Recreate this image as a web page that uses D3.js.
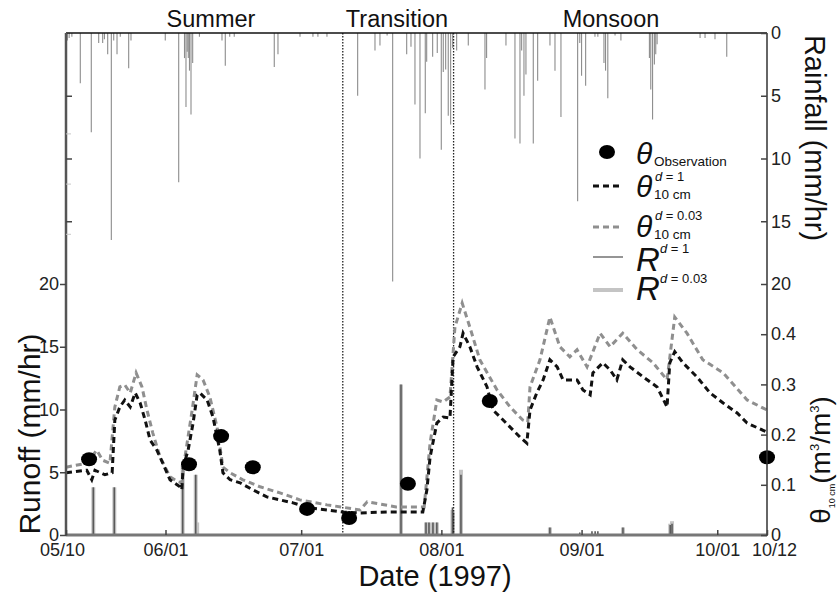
<!DOCTYPE html>
<html><head><meta charset="utf-8">
<script src="https://cdn.jsdelivr.net/npm/d3@7/dist/d3.min.js"></script>
<style>
body{margin:0;background:#fff}
text{font-family:"Liberation Sans",Arial,Helvetica,sans-serif}
</style></head>
<body><svg id="chart" width="838" height="592"></svg>
<script>
// ---- DATA (day = days since 1997-05-10) ----
const seasonNames = ["Summer", "Transition", "Monsoon"];
const seasonBreakDays = [61.2, 85.7];
const dateTickLabels = ["05/10", "06/01", "07/01", "08/01", "09/01", "10/01", "10/12"];
const runoffTicks = [0, 5, 10, 15, 20];
const rainfallTicks = [0, 5, 10, 15, 20];
const thetaTicks = [0, 0.1, 0.2, 0.3, 0.4];

// hourly rainfall (mm/hr) : [day, value]
const rainfall = [[0.1,1.1],[0.3,0.6],[0.7,0.4],[1.3,0.3],[3.16,4.0],[5.59,7.9],[7.23,0.8],[8.11,0.8],[8.5,0.5],[9.22,1.7],[10.02,16.5],[10.55,0.6],[11.28,1.7],[12.0,0.3],[13.86,2.8],[14.37,0.6],[21.95,0.6],[24.92,11.9],[26.2,2.0],[26.53,5.9],[26.8,1.5],[27.04,2.0],[27.3,3.0],[27.64,6.5],[28.01,2.4],[29.5,0.3],[34.49,0.6],[35.22,2.6],[36.2,0.3],[37.2,0.3],[46.05,2.7],[46.87,1.7],[51.74,0.3],[54.6,0.3],[55.7,0.3],[57.7,0.3],[64.49,5.0],[68.32,1.4],[69.42,1.0],[71.0,0.2],[72.23,19.8],[75.33,1.7],[76.28,1.1],[77.16,5.7],[78.27,10.0],[79.44,6.4],[79.75,2.3],[81.07,1.9],[82.09,1.6],[82.98,9.3],[83.42,3.1],[83.95,2.9],[84.52,6.6],[85.05,7.3],[85.5,1.2],[86.38,1.4],[88.95,1.0],[92.64,4.5],[93.0,2.0],[97.28,1.0],[99.27,8.4],[100.38,8.8],[100.75,1.4],[101.26,5.0],[101.7,3.3],[103.32,8.8],[104.29,3.8],[107.01,1.0],[108.12,3.0],[109.44,6.7],[113.13,13.4],[113.6,0.8],[114.0,3.4],[114.9,4.2],[116.96,0.3],[117.6,0.3],[118.95,2.4],[119.3,3.0],[119.8,5.2],[121.4,0.2],[122.7,0.6],[129.0,2.0],[129.3,4.5],[129.7,6.9],[130.1,2.5],[130.4,1.7],[130.7,0.9],[140.2,0.4],[141.3,0.4],[143.5,0.5],[146.1,1.9]];

// simulated runoff (mm/hr) : [day, value]
const runoffD1 = [[6.04,3.8],[10.68,3.8],[25.8,5.6],[28.68,4.8],[74.07,12.0],[79.6,1.0],[80.26,1.0],[81.14,1.0],[82.0,1.0],[85.45,2.2],[85.67,1.8],[87.33,4.8],[107.0,0.6],[113.6,0.2],[116.3,0.3],[117.0,0.3],[117.6,0.3],[123.15,0.6],[133.6,0.8],[134.0,0.9]];
const runoffD003 = [[6.04,3.8],[10.68,3.8],[25.8,5.6],[28.68,4.8],[29.0,1.0],[74.07,12.0],[79.6,1.0],[80.26,1.0],[81.14,1.0],[82.0,1.0],[85.45,2.0],[87.33,5.2],[107.0,0.6],[123.15,0.6],[133.6,0.9],[134.0,1.1]];

// simulated soil moisture at 10 cm (m3/m3) : [day, value]
const thetaD1 = [[0,0.124],[4.6,0.129],[5.7,0.110],[6.4,0.129],[8.6,0.120],[10.2,0.124],[10.8,0.229],[11.9,0.255],[13.0,0.269],[14.2,0.255],[15.3,0.283],[16.4,0.263],[17.5,0.229],[18.6,0.189],[20.1,0.169],[21.4,0.143],[23.0,0.110],[25.2,0.096],[25.6,0.090],[25.9,0.135],[27.0,0.169],[28.1,0.223],[29.0,0.279],[29.6,0.283],[31.2,0.269],[32.5,0.235],[34.0,0.169],[34.7,0.124],[36.3,0.110],[38.5,0.104],[41.3,0.090],[44.4,0.076],[47.3,0.070],[50.2,0.064],[53.9,0.054],[57.7,0.050],[61.2,0.046],[65.0,0.044],[71.6,0.046],[78.9,0.046],[79.8,0.090],[80.5,0.155],[82.0,0.223],[83.4,0.235],[84.9,0.233],[85.6,0.355],[87.1,0.375],[87.8,0.402],[89.3,0.375],[90.9,0.335],[93.1,0.295],[94.4,0.249],[96.0,0.235],[98.2,0.215],[100.4,0.195],[101.9,0.183],[102.6,0.249],[104.1,0.283],[105.5,0.309],[107.0,0.349],[108.6,0.335],[109.9,0.309],[111.4,0.309],[113.0,0.309],[114.3,0.289],[115.9,0.279],[116.5,0.323],[118.7,0.343],[120.3,0.329],[121.8,0.309],[123.1,0.349],[124.7,0.335],[127.6,0.315],[130.7,0.295],[132.9,0.255],[133.5,0.343],[134.6,0.365],[136.4,0.343],[139.5,0.315],[142.4,0.283],[145.3,0.263],[148.4,0.243],[150.6,0.223],[155,0.205]];
const thetaD003 = [[0,0.135],[4.6,0.143],[6.8,0.169],[8.1,0.149],[9.7,0.143],[10.8,0.255],[11.9,0.295],[13.0,0.299],[14.2,0.283],[15.5,0.323],[16.8,0.295],[17.9,0.249],[19.2,0.203],[20.8,0.155],[23.0,0.116],[24.8,0.106],[25.6,0.104],[26.3,0.155],[27.9,0.249],[29.0,0.319],[30.3,0.309],[31.8,0.275],[33.4,0.215],[34.7,0.135],[36.3,0.124],[39.1,0.110],[42.9,0.096],[47.3,0.084],[51.7,0.070],[57.7,0.060],[65.0,0.050],[66.6,0.066],[73.0,0.056],[79.2,0.056],[80.5,0.183],[82.0,0.269],[83.4,0.265],[84.9,0.275],[86.0,0.414],[87.6,0.462],[89.3,0.414],[91.5,0.349],[95.3,0.289],[98.2,0.255],[101.0,0.229],[102.1,0.225],[102.6,0.295],[104.8,0.349],[107.0,0.434],[109.2,0.375],[111.4,0.355],[113.0,0.369],[115.2,0.335],[118.1,0.402],[120.3,0.375],[123.1,0.402],[126.3,0.369],[129.8,0.343],[132.9,0.309],[134.6,0.434],[137.3,0.402],[140.8,0.349],[145.3,0.323],[150.6,0.269],[155,0.249]];

// observed soil moisture (m3/m3) : [day, value]
const thetaObs = [[5.1,0.151],[27.2,0.141],[34.3,0.197],[41.3,0.135],[53.3,0.052],[62.6,0.034],[75.6,0.102],[93.7,0.267],[155,0.155]];

// ---- CHART ----
const svg = d3.select("#chart");
const L = 66, R = 767, T = 33, B = 535;
const t0 = new Date(1997, 4, 10);
const dayToDate = d => new Date(t0.getTime() + d * 86400000);
const x = d3.scaleTime().domain([t0, new Date(1997, 9, 12)]).range([L, R]);
const yRun = d3.scaleLinear().domain([0, 40]).range([B, T]);
const yRain = d3.scaleLinear().domain([0, 40]).range([T, B]);
const yTheta = d3.scaleLinear().domain([0, 1]).range([B, T]);

// rainfall bars hanging from top
svg.append("g").selectAll("line").data(rainfall).join("line")
  .attr("x1", d => x(dayToDate(d[0]))).attr("x2", d => x(dayToDate(d[0])))
  .attr("y1", yRain(0)).attr("y2", d => yRain(d[1]))
  .attr("stroke", "#8c8c8c").attr("stroke-width", 1.1);

// runoff bars
svg.append("g").selectAll("line").data(runoffD003).join("line")
  .attr("x1", d => x(dayToDate(d[0]))).attr("x2", d => x(dayToDate(d[0])))
  .attr("y1", yRun(0)).attr("y2", d => yRun(d[1]))
  .attr("stroke", "#c4c4c4").attr("stroke-width", 4);
svg.append("g").selectAll("line").data(runoffD1).join("line")
  .attr("x1", d => x(dayToDate(d[0]))).attr("x2", d => x(dayToDate(d[0])))
  .attr("y1", yRun(0)).attr("y2", d => yRun(d[1]))
  .attr("stroke", "#5a5a5a").attr("stroke-width", 1.6);

// season separators
svg.append("g").selectAll("line").data(seasonBreakDays).join("line")
  .attr("x1", d => x(dayToDate(d))).attr("x2", d => x(dayToDate(d)))
  .attr("y1", T).attr("y2", B)
  .attr("stroke", "#222").attr("stroke-width", 1.3).attr("stroke-dasharray", "1.5,1.5");

// soil moisture lines
const line = d3.line().x(d => x(dayToDate(d[0]))).y(d => yTheta(d[1]));
svg.append("path").datum(thetaD003).attr("d", line)
  .attr("fill", "none").attr("stroke", "#8f8f8f").attr("stroke-width", 3).attr("stroke-dasharray", "6,4");
svg.append("path").datum(thetaD1).attr("d", line)
  .attr("fill", "none").attr("stroke", "#111").attr("stroke-width", 3).attr("stroke-dasharray", "6,4");

// observations
svg.append("g").selectAll("ellipse").data(thetaObs).join("ellipse")
  .attr("cx", d => x(dayToDate(d[0]))).attr("cy", d => yTheta(d[1]))
  .attr("rx", 8).attr("ry", 7).attr("fill", "#000");

// ---- AXES ----
const axisColor = "#444";
svg.append("line").attr("x1", L).attr("x2", R).attr("y1", T).attr("y2", T).attr("stroke", "#111").attr("stroke-width", 1.5);
svg.append("line").attr("x1", L).attr("x2", R).attr("y1", B).attr("y2", B).attr("stroke", "#777").attr("stroke-width", 3);
svg.append("line").attr("x1", L).attr("x2", L).attr("y1", T).attr("y2", B + 1).attr("stroke", "#555").attr("stroke-width", 2.5);
svg.append("line").attr("x1", R).attr("x2", R).attr("y1", T).attr("y2", B + 1).attr("stroke", "#333").attr("stroke-width", 1.5);

// left runoff axis
svg.append("g").attr("transform", `translate(${L},0)`)
  .call(d3.axisLeft(yRun).tickValues(runoffTicks).tickSize(6).tickPadding(1).tickFormat(d3.format("d")));
// extra left ticks aligned with rainfall scale
svg.append("g").attr("transform", `translate(${L},0)`)
  .call(d3.axisRight(yRain).tickValues([5, 10, 15]).tickSize(6).tickFormat(""));
svg.append("g").attr("class", "faint").attr("transform", `translate(${L},0)`)
  .call(d3.axisRight(yTheta).tickValues([0.6, 0.7, 0.8]).tickSize(5).tickFormat(""));
// right rainfall axis
svg.append("g").attr("transform", `translate(${R},0)`)
  .call(d3.axisRight(yRain).tickValues(rainfallTicks).tickSize(-6).tickPadding(4).tickFormat(d3.format("d")));
// right theta axis
svg.append("g").attr("transform", `translate(${R},0)`)
  .call(d3.axisRight(yTheta).tickValues(thetaTicks).tickSize(-6).tickPadding(4).tickFormat(d => d === 0 ? "0" : d3.format(".1f")(d)));
// bottom date axis
const dateTicks = dateTickLabels.map(s => new Date(1997, +s.slice(0, 2) - 1, +s.slice(3)));
const gb = svg.append("g").attr("transform", `translate(0,${B})`)
  .call(d3.axisBottom(x).tickValues(dateTicks).tickSize(-5).tickPadding(8).tickFormat(d3.timeFormat("%m/%d")));
gb.selectAll(".tick text").filter((d, i) => i === dateTicks.length - 1).attr("dx", 7);
gb.selectAll(".tick text").filter((d, i) => i === 0).attr("dx", -4);

svg.selectAll(".domain").remove();
svg.selectAll(".tick line").attr("stroke", axisColor).attr("stroke-width", 1.5);
svg.selectAll(".faint .tick line").attr("stroke", "#c8c8c8").attr("stroke-width", 1);
svg.selectAll(".tick text").attr("font-size", 18).attr("fill", "#222")
  .attr("font-family", '"Liberation Sans",Arial,sans-serif');

// season labels
svg.append("g").selectAll("text").data(seasonNames).join("text")
  .attr("x", (d, i) => [211, 397, 611][i]).attr("y", 27)
  .attr("text-anchor", "middle").attr("font-size", 23.5).attr("fill", "#111").text(d => d);

// axis titles
svg.append("text").attr("transform", "translate(40,434) rotate(-90)").attr("text-anchor", "middle")
  .attr("font-size", 30).attr("fill", "#111").text("Runoff (mm/hr)");
svg.append("text").attr("x", 435).attr("y", 586).attr("text-anchor", "middle")
  .attr("font-size", 29).attr("fill", "#111").text("Date (1997)");
svg.append("text").attr("transform", "translate(805,138) rotate(90)").attr("text-anchor", "middle")
  .attr("font-size", 29).attr("fill", "#111").text("Rainfall (mm/hr)");
const th = svg.append("text").attr("transform", "translate(830,460) rotate(-90)").attr("text-anchor", "middle")
  .attr("font-size", 28).attr("fill", "#111");
th.append("tspan").text("θ");
th.append("tspan").attr("font-size", 9).attr("dy", 5).text("10 cm");
th.append("tspan").attr("dy", -5).text("(m");
th.append("tspan").attr("font-size", 13).attr("dy", -11).text("3");
th.append("tspan").attr("dy", 11).text("/m");
th.append("tspan").attr("font-size", 13).attr("dy", -11).text("3");
th.append("tspan").attr("dy", 11).text(")");

// ---- LEGEND ----
const lg = svg.append("g");
const lx1 = 593, lx2 = 623, tx = 636;
lg.append("ellipse").attr("cx", 607).attr("cy", 152).attr("rx", 8).attr("ry", 7).attr("fill", "#000");
lg.append("line").attr("x1", lx1).attr("x2", lx2).attr("y1", 186).attr("y2", 186)
  .attr("stroke", "#111").attr("stroke-width", 3).attr("stroke-dasharray", "6,4");
lg.append("line").attr("x1", lx1).attr("x2", lx2).attr("y1", 227).attr("y2", 227)
  .attr("stroke", "#8f8f8f").attr("stroke-width", 3).attr("stroke-dasharray", "6,4");
lg.append("line").attr("x1", lx1).attr("x2", lx2).attr("y1", 257).attr("y2", 257)
  .attr("stroke", "#7a7a7a").attr("stroke-width", 1.6);
lg.append("line").attr("x1", lx1).attr("x2", lx2).attr("y1", 290).attr("y2", 290)
  .attr("stroke", "#c4c4c4").attr("stroke-width", 4);

function sym(letter, y, size, sup, sub, supDx, supDy) {
  lg.append("text").attr("x", tx).attr("y", y).attr("font-size", size).attr("font-style", "italic")
    .attr("fill", "#111").text(letter);
  if (sup) lg.append("text").attr("x", tx + supDx).attr("y", y - supDy).attr("font-size", 13).attr("fill", "#111")
    .html(`<tspan font-style="italic">d</tspan> = ${sup}`);
  if (sub) lg.append("text").attr("x", tx + 18).attr("y", y + 2).attr("font-size", 13.5).attr("fill", "#111").text(sub);
}
sym("θ", 164, 30, null, "Observation", 0, 0);
sym("θ", 197, 30, "1", "10 cm", 19, 16);
sym("θ", 237, 30, "0.03", "10 cm", 19, 17);
sym("R", 271, 33, "1", null, 24, 18);
sym("R", 300, 33, "0.03", null, 24, 17);
</script>
</body></html>
